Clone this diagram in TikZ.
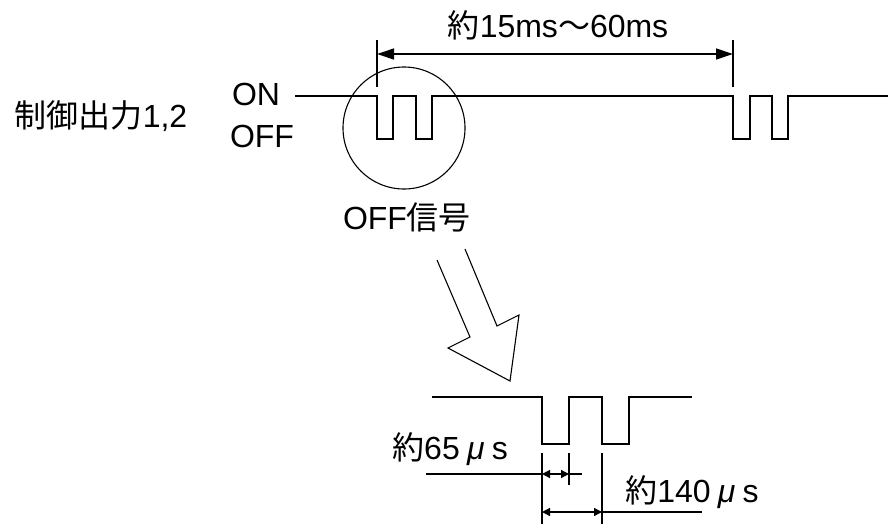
\documentclass[tikz,border=0pt]{standalone}
\usepackage{fontspec}
\setmainfont{Liberation Sans}
\newfontfamily\jp{Noto Sans CJK JP}
\usetikzlibrary{arrows.meta}
\begin{document}
\begin{tikzpicture}[x=1pt,y=-1pt,line width=1.3pt,
  lbl/.style={inner sep=0pt,anchor=base,font=\fontsize{32}{38}\selectfont},
  bigtip/.style={{Triangle[length=17pt,width=11pt]}-{Triangle[length=17pt,width=11pt]}},
  smalltip/.style={{Triangle[length=8pt,width=8pt]}-{Triangle[length=8pt,width=8pt]}},
  wave/.style={line join=miter}]
\useasboundingbox (0,0) rectangle (888,525);
% top waveform
\draw[wave] (295,96) -- (377,96) -- (377,139) -- (393,139) -- (393,96) -- (416,96) -- (416,139) -- (432,139) -- (432,96)
  -- (733,96) -- (733,139) -- (750,139) -- (750,96) -- (772,96) -- (772,139) -- (788,139) -- (788,96) -- (888,96);
% top dimension
\coordinate (dA) at (377,54);
\coordinate (dB) at (733,54);
\draw (377,40) -- (377,87);
\draw (733,40) -- (733,87);
\draw[bigtip] (dA) -- (dB);
% circle
\draw[line width=1.1pt] (404,128) circle (61pt);
% big hollow arrow
\draw[line width=1.1pt,line join=miter] (437,260) -- (470,337) -- (448,348) -- (510,381) -- (519,315) -- (497,326) -- (465,249);
% bottom waveform
\draw[wave] (432,397) -- (542,397) -- (542,444) -- (569,444) -- (569,397) -- (602,397) -- (602,444) -- (629,444) -- (629,397) -- (692,397);
% bottom dimensions
\draw (542,453) -- (542,524);
\draw (569,453) -- (569,485);
\draw (602,453) -- (602,524);
\coordinate (a1) at (542,474);
\coordinate (a2) at (569,474);
\coordinate (b1) at (542,512);
\coordinate (b2) at (602,512);
\draw (426,474) -- (a1);
\draw[smalltip] (a1) -- (a2);
\draw (a2) -- (582,474);
\draw[smalltip] (b1) -- (b2);
\draw (b2) -- (702,512);
% labels
\node[lbl] (dim) at (558,37) {{\jp 約}15ms{\jp 〜}60ms};
\node[lbl] (ctrl) at (101,127) {{\jp 制御出力}1,2};
\node[lbl] (on) at (256,105) {ON};
\node[lbl] (off) at (262,147) {OFF};
\node[lbl] (sig) at (407,229) {OFF{\jp 信号}};
\node[lbl] (t65) at (450,459) {{\jp 約}65\makebox[1em]{\itshape μ}s};
\node[lbl] (t140) at (692,502) {{\jp 約}140\makebox[1em]{\itshape μ}s};
\end{tikzpicture}
\end{document}
